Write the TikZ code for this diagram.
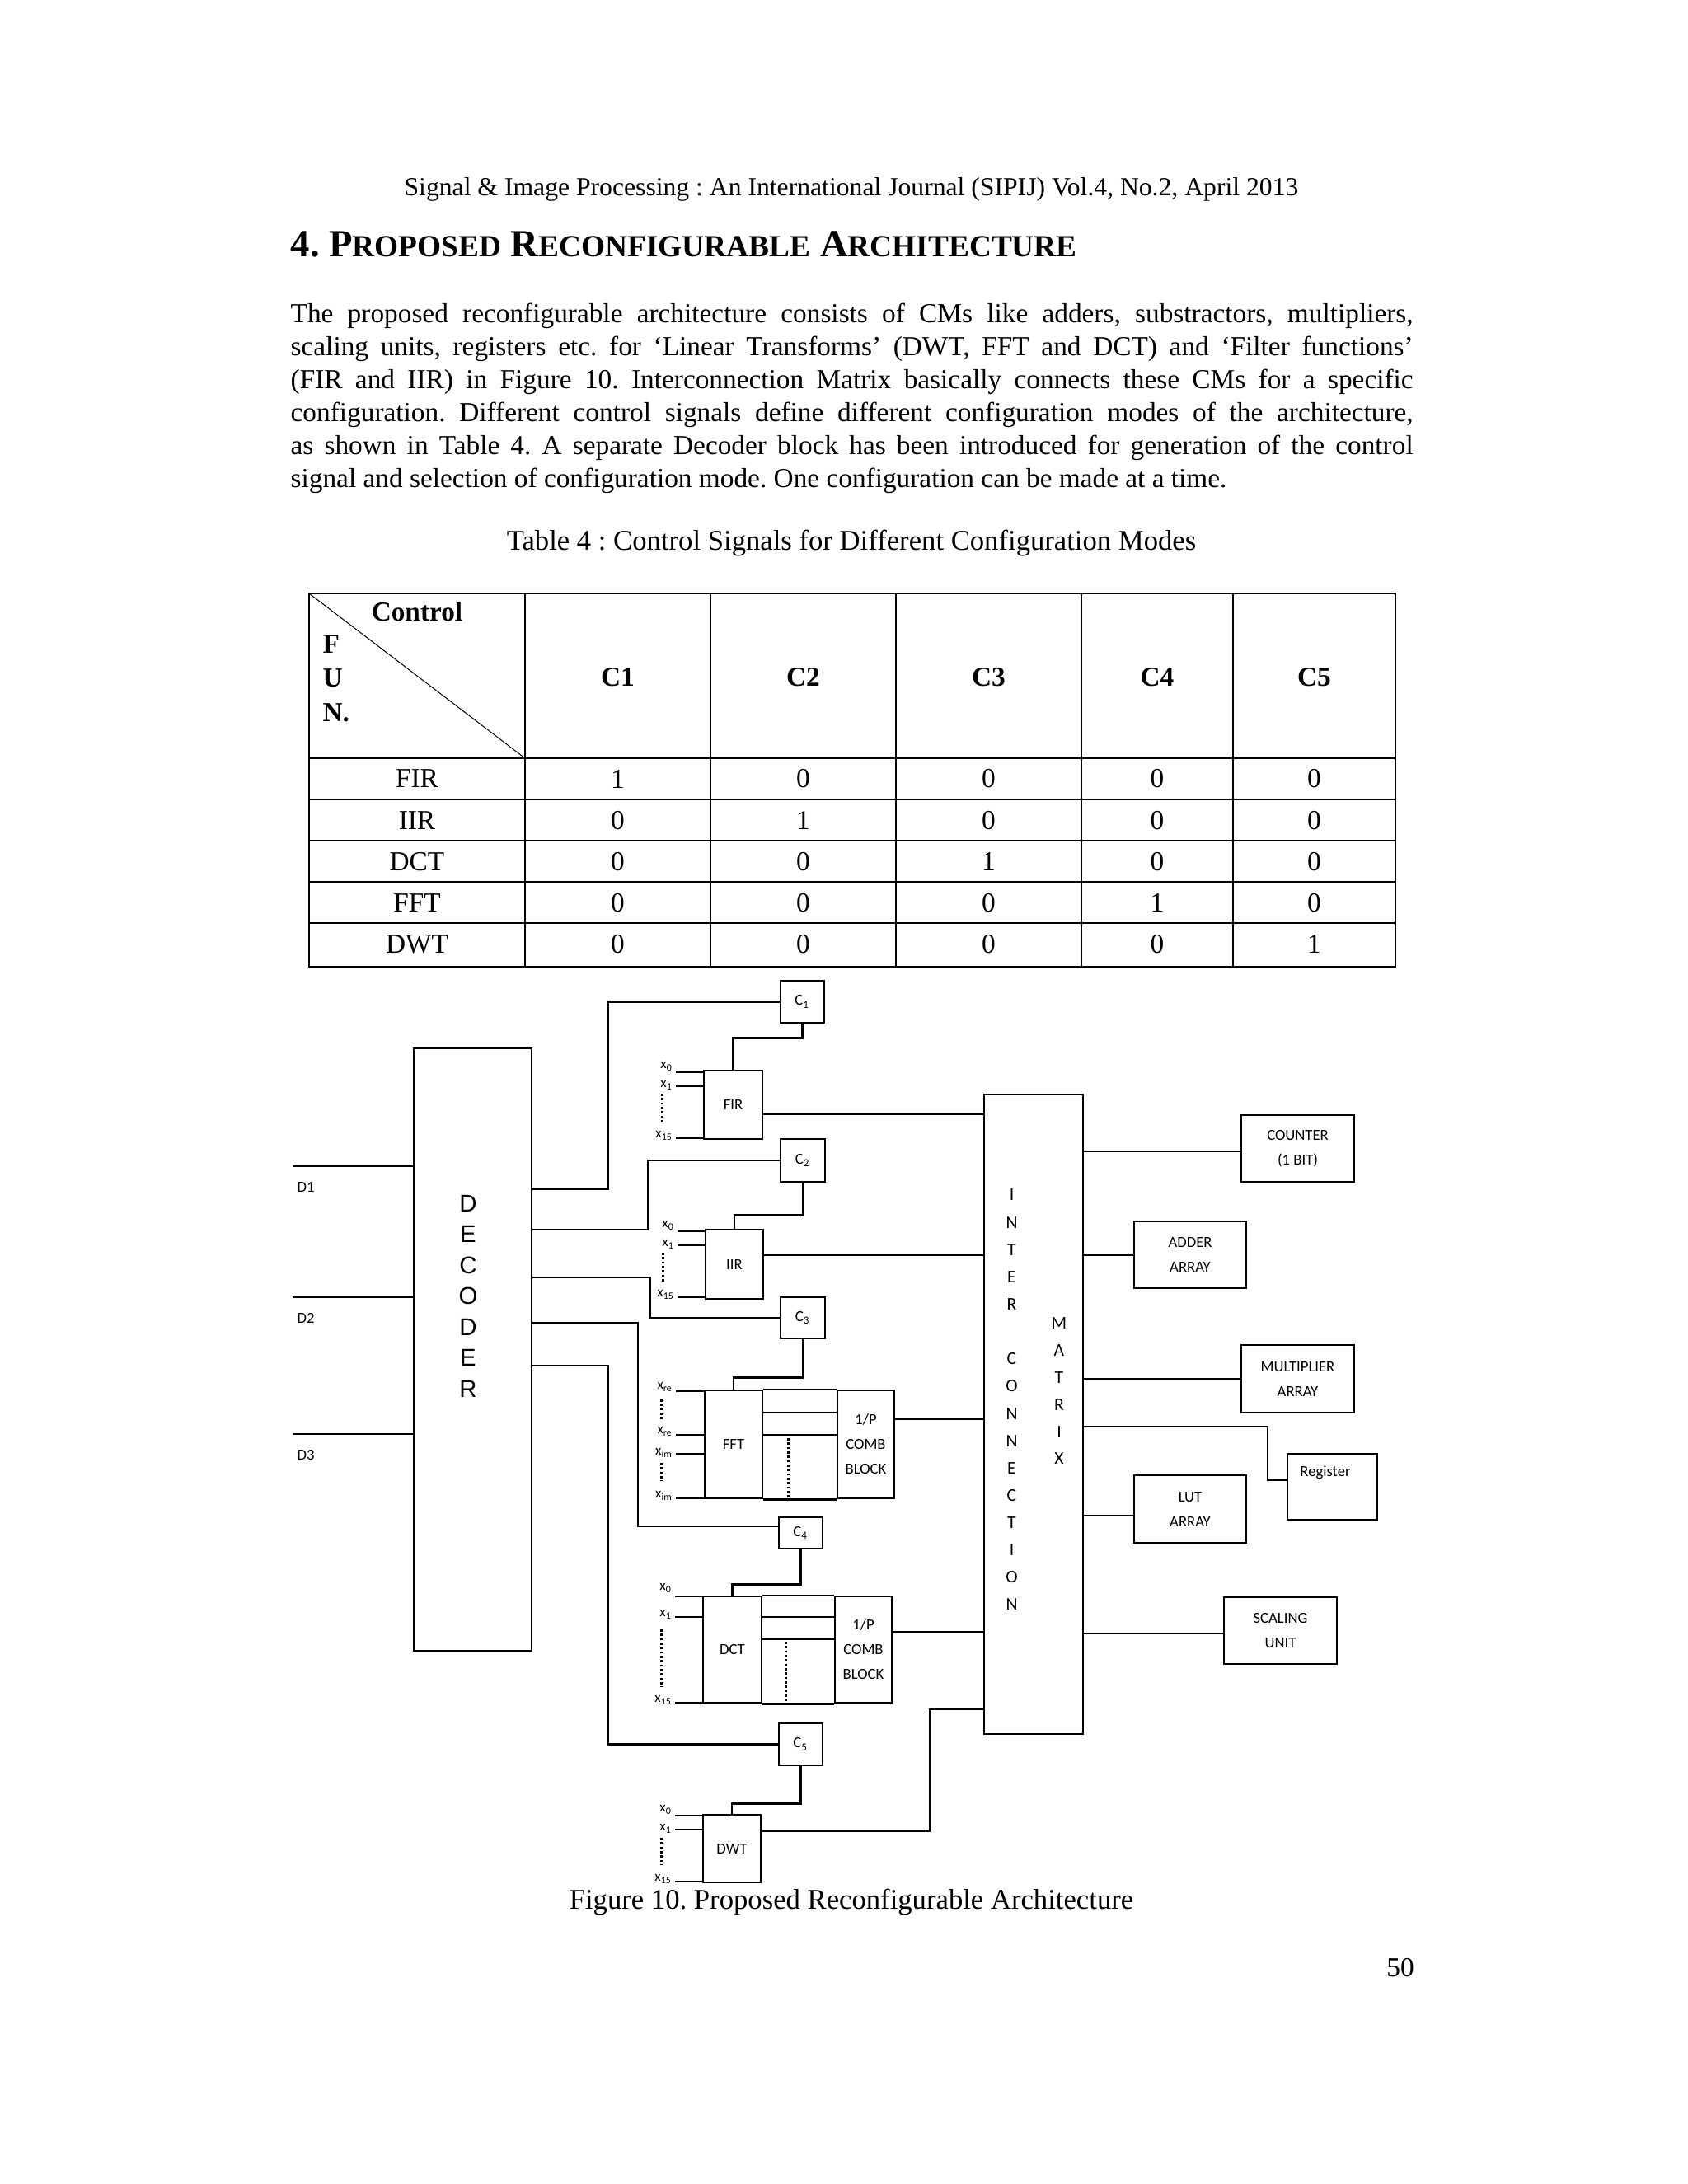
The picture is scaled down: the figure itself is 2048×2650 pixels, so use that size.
\documentclass[tikz,border=0pt]{standalone}
\usepackage{fontspec}
\setmainfont{Liberation Serif}
\newfontfamily\carlito{Carlito}
\newfontfamily\arialfont{Liberation Sans}
\usetikzlibrary{positioning}
\newcommand{\sccap}[1]{{\fontsize{11.2}{13}\selectfont #1}}
\newcommand{\jline}[1]{\makebox[408.6pt][s]{#1}}
\frenchspacing

\begin{document}
\begin{tikzpicture}[x=0.3pt, y=-0.3pt,
  blk/.style 2 args={draw, line width=0.8pt, inner sep=0pt, minimum width=#1*0.3pt,
    minimum height=#2*0.3pt, font=\carlito\fontsize{5.6}{9}\selectfont, align=center},
  wire/.style={line width=0.7pt},
  xlab/.style={left, inner sep=0.6pt, font=\carlito\fontsize{5.1}{5}\selectfont},
  dots/.style={line width=0.9pt, dash pattern=on 0.8pt off 0.8pt},
  txt/.style={inner sep=0pt, font=\fontsize{10}{12}\selectfont},
  tline/.style={line width=0.6pt}]
  \fill[white] (0,0) rectangle (2048,2650);
  \useasboundingbox (0,0) rectangle (2048,2650);

  % page text
  \node[txt, font=\fontsize{9.5}{12}\selectfont] (head) at (1033,230) {Signal \& Image Processing : An International Journal (SIPIJ) Vol.4, No.2, April 2013};
  \node[txt, anchor=base west, font=\fontsize{14}{16}\bfseries] (sec) at (352,311)
    {4. P\sccap{ROPOSED} R\sccap{ECONFIGURABLE} A\sccap{RCHITECTURE}};
  \node[txt, anchor=north west, align=left] (body) at (352,367) {%
    \jline{The proposed reconfigurable architecture consists of CMs like adders, substractors, multipliers,}\\
    \jline{scaling units, registers etc. for `Linear Transforms' (DWT, FFT and DCT) and `Filter functions'}\\
    \jline{(FIR and IIR) in Figure 10. Interconnection Matrix basically connects these CMs for a specific}\\
    \jline{configuration. Different control signals define different configuration modes of the architecture,}\\
    \jline{as shown in Table 4. A separate Decoder block has been introduced for generation of the control}\\
    signal and selection of configuration mode. One configuration can be made at a time.};
  \node[txt, font=\fontsize{10.4}{12}\selectfont] (tcap) at (1033,659) {Table 4 : Control Signals for Different Configuration Modes};

  % table
  \draw[tline] (375,720) rectangle (1693,1173);
  \foreach \x in {637,862,1087,1312,1496}
    \draw[tline] (\x,720) -- (\x,1173);
  \foreach \y in {920,970,1020,1070,1120}
    \draw[tline] (375,\y) -- (1693,\y);
  \draw[line width=0.3pt] (375,720) -- (637,920);
  \node[txt, font=\fontsize{10}{12}\bfseries] (ctrl) at (506,742) {Control};
  \node[txt, anchor=west, font=\fontsize{10}{12}\bfseries] (fl) at (391,782) {F};
  \node[txt, anchor=west, font=\fontsize{10}{12}\bfseries] (ul) at (391,823) {U};
  \node[txt, anchor=west, font=\fontsize{10}{12}\bfseries] (nl) at (391,865) {N.};
  \foreach \c/\x in {C1/749.5, C2/974.5, C3/1199.5, C4/1404, C5/1594.5}
    \node[txt, font=\fontsize{10}{12}\bfseries] (h\c) at (\x,822) {\c};
  \foreach \f/\a/\b/\c/\d/\e [count=\i] in {FIR/1/0/0/0/0, IIR/0/1/0/0/0, DCT/0/0/1/0/0, FFT/0/0/0/1/0, DWT/0/0/0/0/1} {
    \node[txt] (r\i) at (506,945+50.2*\i-50.2) {\f};
    \node[txt] (r\i a) at (749.5,945+50.2*\i-50.2) {\a};
    \node[txt] (r\i b) at (974.5,945+50.2*\i-50.2) {\b};
    \node[txt] (r\i c) at (1199.5,945+50.2*\i-50.2) {\c};
    \node[txt] (r\i d) at (1404,945+50.2*\i-50.2) {\d};
    \node[txt] (r\i e) at (1594.5,945+50.2*\i-50.2) {\e};
  }

  % decoder and interconnection matrix
  \node[blk={143}{731}] (dec) at (573.5,1637.5) {};
  \node[inner sep=0pt, align=center, font=\arialfont\fontsize{8.8}{11.25}\selectfont] (declbl) at (568,1572.5) {D\\E\\C\\O\\D\\E\\R};
  \node[blk={120}{776}] (mat) at (1254,1716) {};
  \node[inner sep=0pt, align=center, font=\carlito\fontsize{6.5}{9.94}\selectfont] (interlbl) at (1227.5,1698.5)
    {I\\N\\T\\E\\R\\[9.94pt]C\\O\\N\\N\\E\\C\\T\\I\\O\\N};
  \node[inner sep=0pt, align=center, font=\carlito\fontsize{6.5}{9.84}\selectfont] (matlbl) at (1285,1688) {M\\A\\T\\R\\I\\X};

  % control boxes
  \node[blk={53}{51}] (c1) at (973.5,1215.5) {C\textsubscript{1}};
  \node[blk={54}{52}] (c2) at (974,1408) {C\textsubscript{2}};
  \node[blk={54}{50}] (c3) at (974,1599) {C\textsubscript{3}};
  \node[blk={53}{38}] (c4) at (971.5,1860) {C\textsubscript{4}};
  \node[blk={53}{51}] (c5) at (971.5,2116.5) {C\textsubscript{5}};

  % function blocks
  \node[blk={71}{83}] (fir) at (889.5,1340.5) {FIR};
  \node[blk={70}{84}] (iir) at (891,1534) {IIR};
  \node[blk={70}{131}] (fft) at (890,1752.5) {FFT};
  \node[blk={69}{131}] (fcomb) at (1050.5,1752.5) {1/P\\COMB\\BLOCK};
  \node[blk={71}{129}] (dct) at (888.5,2001.5) {DCT};
  \node[blk={69}{129}] (dcomb) at (1047.5,2001.5) {1/P\\COMB\\BLOCK};
  \node[blk={70}{82}] (dwt) at (888,2243) {DWT};

  % units on the right
  \node[blk={137}{81}] (cnt) at (1574.5,1393.5) {COUNTER\\(1 BIT)};
  \node[blk={136}{81}] (add) at (1444,1522.5) {ADDER\\ARRAY};
  \node[blk={137}{82}] (mul) at (1574.5,1673) {MULTIPLIER\\ARRAY};
  \node[blk={109}{80}] (reg) at (1616.5,1804) {};
  \node[inner sep=0pt, font=\carlito\fontsize{5.6}{9}\selectfont] (reglbl) at (1608,1787) {Register};
  \node[blk={136}{82}] (lut) at (1444,1831) {LUT\\ARRAY};
  \node[blk={137}{81}] (scl) at (1553.5,1978.5) {SCALING\\UNIT};

  % decoder inputs
  \foreach \n/\y in {1/1415, 2/1574, 3/1740} {
    \coordinate (d\n) at (356,\y);
    \draw[wire] (d\n) -- (dec.west |- d\n);
    \node[anchor=west, inner sep=0pt, font=\carlito\fontsize{5.6}{6}\selectfont] (dl\n) at (360,\y+25) {D\n};
  }

  % decoder to control boxes
  \draw[wire] (dec.east |- 0,1443) -| (738,1215.5) -- (c1.west);
  \draw[wire] (dec.east |- 0,1492) -| (786,1408) -- (c2.west);
  \draw[wire] (dec.east |- 0,1550) -| (789,1599) -- (c3.west);
  \draw[wire] (dec.east |- 0,1605) -| (774,1852) -- (c4.west |- 0,1852);
  \draw[wire] (dec.east |- 0,1657) -| (738,2116.5) -- (c5.west);

  % control boxes to blocks
  \draw[wire] (c1.south) -- ++(0,17) -| (fir.north);
  \draw[wire] (c2.south) -- ++(0,39) -| (iir.north);
  \draw[wire] (c3.south) -- ++(0,46) -| (fft.north);
  \draw[wire] (c4.south) -- ++(0,42) -| (dct.north);
  \draw[wire] (c5.south) -- ++(0,45) -| (dwt.north);

  % block inputs
  \foreach \b/\y/\t/\s in {fir/1301/0/2.2, fir/1318/1/0.4, fir/1381/15/1, iir/1494/0/2.2, iir/1511/1/0.4, iir/1574/15/1,
      dct/1937/0/3, dct/1962/1/1, dct/2066/15/1, dwt/2203/0/2.2, dwt/2220/1/0.4, dwt/2283/15/1}
    \draw[wire] (\b.west |- 0,\y) -- ++(-33,0) node[xlab, yshift=\s pt] {x\textsubscript{\t}};
  \foreach \y/\t/\s in {1688/re/1.5, 1741/re/1.2, 1764/im/0.3, 1818/im/1}
    \draw[wire] (fft.west |- 0,\y) -- ++(-34,0) node[xlab, yshift=\s pt] {x\textsubscript{\t}};
  \foreach \x/\a/\b in {803/1327/1362, 804/1520/1557, 802/1698/1722, 802/1775/1797, 802/1977/2047, 802/2230/2263}
    \draw[dots] (\x,\a) -- (\x,\b);

  % lines between transform and combining blocks
  \draw[wire] (fft.north east) -- (fcomb.north west);
  \draw[wire] (fft.south east) -- (fcomb.south west);
  \draw[wire] (fft.east |- 0,1714) -- (fcomb.west |- 0,1714);
  \draw[wire] (fft.east |- 0,1741) -- (fcomb.west |- 0,1741);
  \draw[dots] (956,1745) -- (956,1818);
  \draw[wire] (dct.north east) -- (dcomb.north west);
  \draw[wire] (dct.south east) -- (dcomb.south west);
  \draw[wire] (dct.east |- 0,1962) -- (dcomb.west |- 0,1962);
  \draw[wire] (dct.east |- 0,1989) -- (dcomb.west |- 0,1989);
  \draw[dots] (953,1992) -- (953,2066);

  % blocks to matrix
  \draw[wire] (fir.east |- 0,1352) -- (mat.west |- 0,1352);
  \draw[wire] (iir.east |- 0,1523) -- (mat.west |- 0,1523);
  \draw[wire] (fcomb.east |- 0,1722) -- (mat.west |- 0,1722);
  \draw[wire] (dcomb.east |- 0,1980) -- (mat.west |- 0,1980);
  \draw[wire] (dwt.east |- 0,2222) -| (1128,2074) -- (mat.west |- 0,2074);

  % matrix to units
  \draw[wire] (mat.east |- 0,1397) -- (cnt.west |- 0,1397);
  \draw[wire] (mat.east |- add.west) -- (add.west);
  \draw[wire] (mat.east |- mul.west) -- (mul.west);
  \draw[wire] (mat.east |- 0,1731) -| (1538,1796) -- (reg.west |- 0,1796);
  \draw[wire] (mat.east |- 0,1839) -- (lut.west |- 0,1839);
  \draw[wire] (mat.east |- 0,1982) -- (scl.west |- 0,1982);

  \node[txt, font=\fontsize{10.4}{12}\selectfont] (figcap) at (1033,2308) {Figure 10. Proposed Reconfigurable Architecture};
  \node[txt] (pgno) at (1699,2388) {50};
\end{tikzpicture}
\end{document}
